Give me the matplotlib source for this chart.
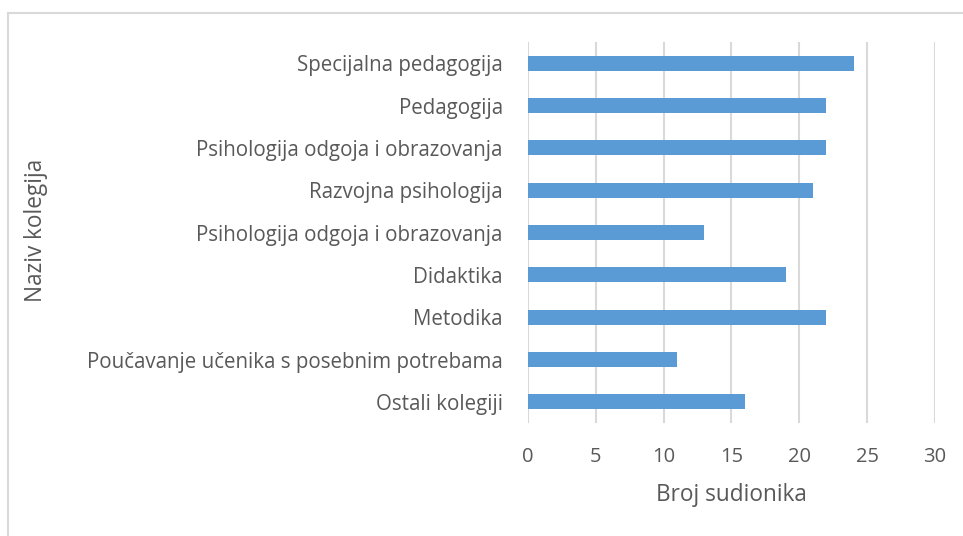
import matplotlib
matplotlib.use("Agg")
import matplotlib.pyplot as plt
from matplotlib.lines import Line2D

# data, top to bottom as in the chart
courses = [
    "Specijalna pedagogija",
    "Pedagogija",
    "Psihologija odgoja i obrazovanja",
    "Razvojna psihologija",
    "Psihologija odgoja i obrazovanja",
    "Didaktika",
    "Metodika",
    "Poučavanje učenika s posebnim potrebama",
    "Ostali kolegiji",
]
participants = [24, 22, 22, 21, 13, 19, 22, 11, 16]
xticks = [0, 5, 10, 15, 20, 25, 30]

txt = "#595959"
plt.rcParams['font.family'] = ['Open Sans', 'DejaVu Sans']

fig = plt.figure(figsize=(9.63, 5.36), dpi=100)
ax = fig.add_axes([0.548, 0.2108, 0.423, 0.7108])

pos = list(range(len(courses)))[::-1]
ax.barh(pos, participants, height=0.355, color="#5b9bd5", zorder=3)

ax.set_xlim(0, 30)
ax.set_ylim(-0.5, len(courses) - 0.5)
ax.set_xticks(xticks)
ax.set_xticklabels([str(t) for t in xticks], fontsize=14.5, color=txt)
ax.set_yticks(pos)
ax.set_yticklabels(courses, fontsize=14.8, color=txt)
ax.tick_params(axis="both", length=0)
ax.tick_params(axis="x", pad=17)
ax.tick_params(axis="y", pad=18)
ax.grid(axis="x", color="#d9d9d9", linewidth=1.5, zorder=0)
for s in ax.spines.values():
    s.set_visible(False)

ax.set_xlabel("Broj sudionika", fontsize=16.3, color=txt, labelpad=12)
fig.text(0.037, 0.571, "Naziv kolegija", rotation=90, fontsize=16.3, color=txt,
         ha="center", va="center")

# outer chart border (only left and top visible in the crop)
fig.add_artist(Line2D([0.0078, 0.0078], [0, 1 - 13 / 536], transform=fig.transFigure,
                      color="#d9d9d9", linewidth=1.5))
fig.add_artist(Line2D([0.0078, 1], [1 - 13 / 536, 1 - 13 / 536], transform=fig.transFigure,
                      color="#d9d9d9", linewidth=1.5))

fig.savefig("out.png", dpi=100)
